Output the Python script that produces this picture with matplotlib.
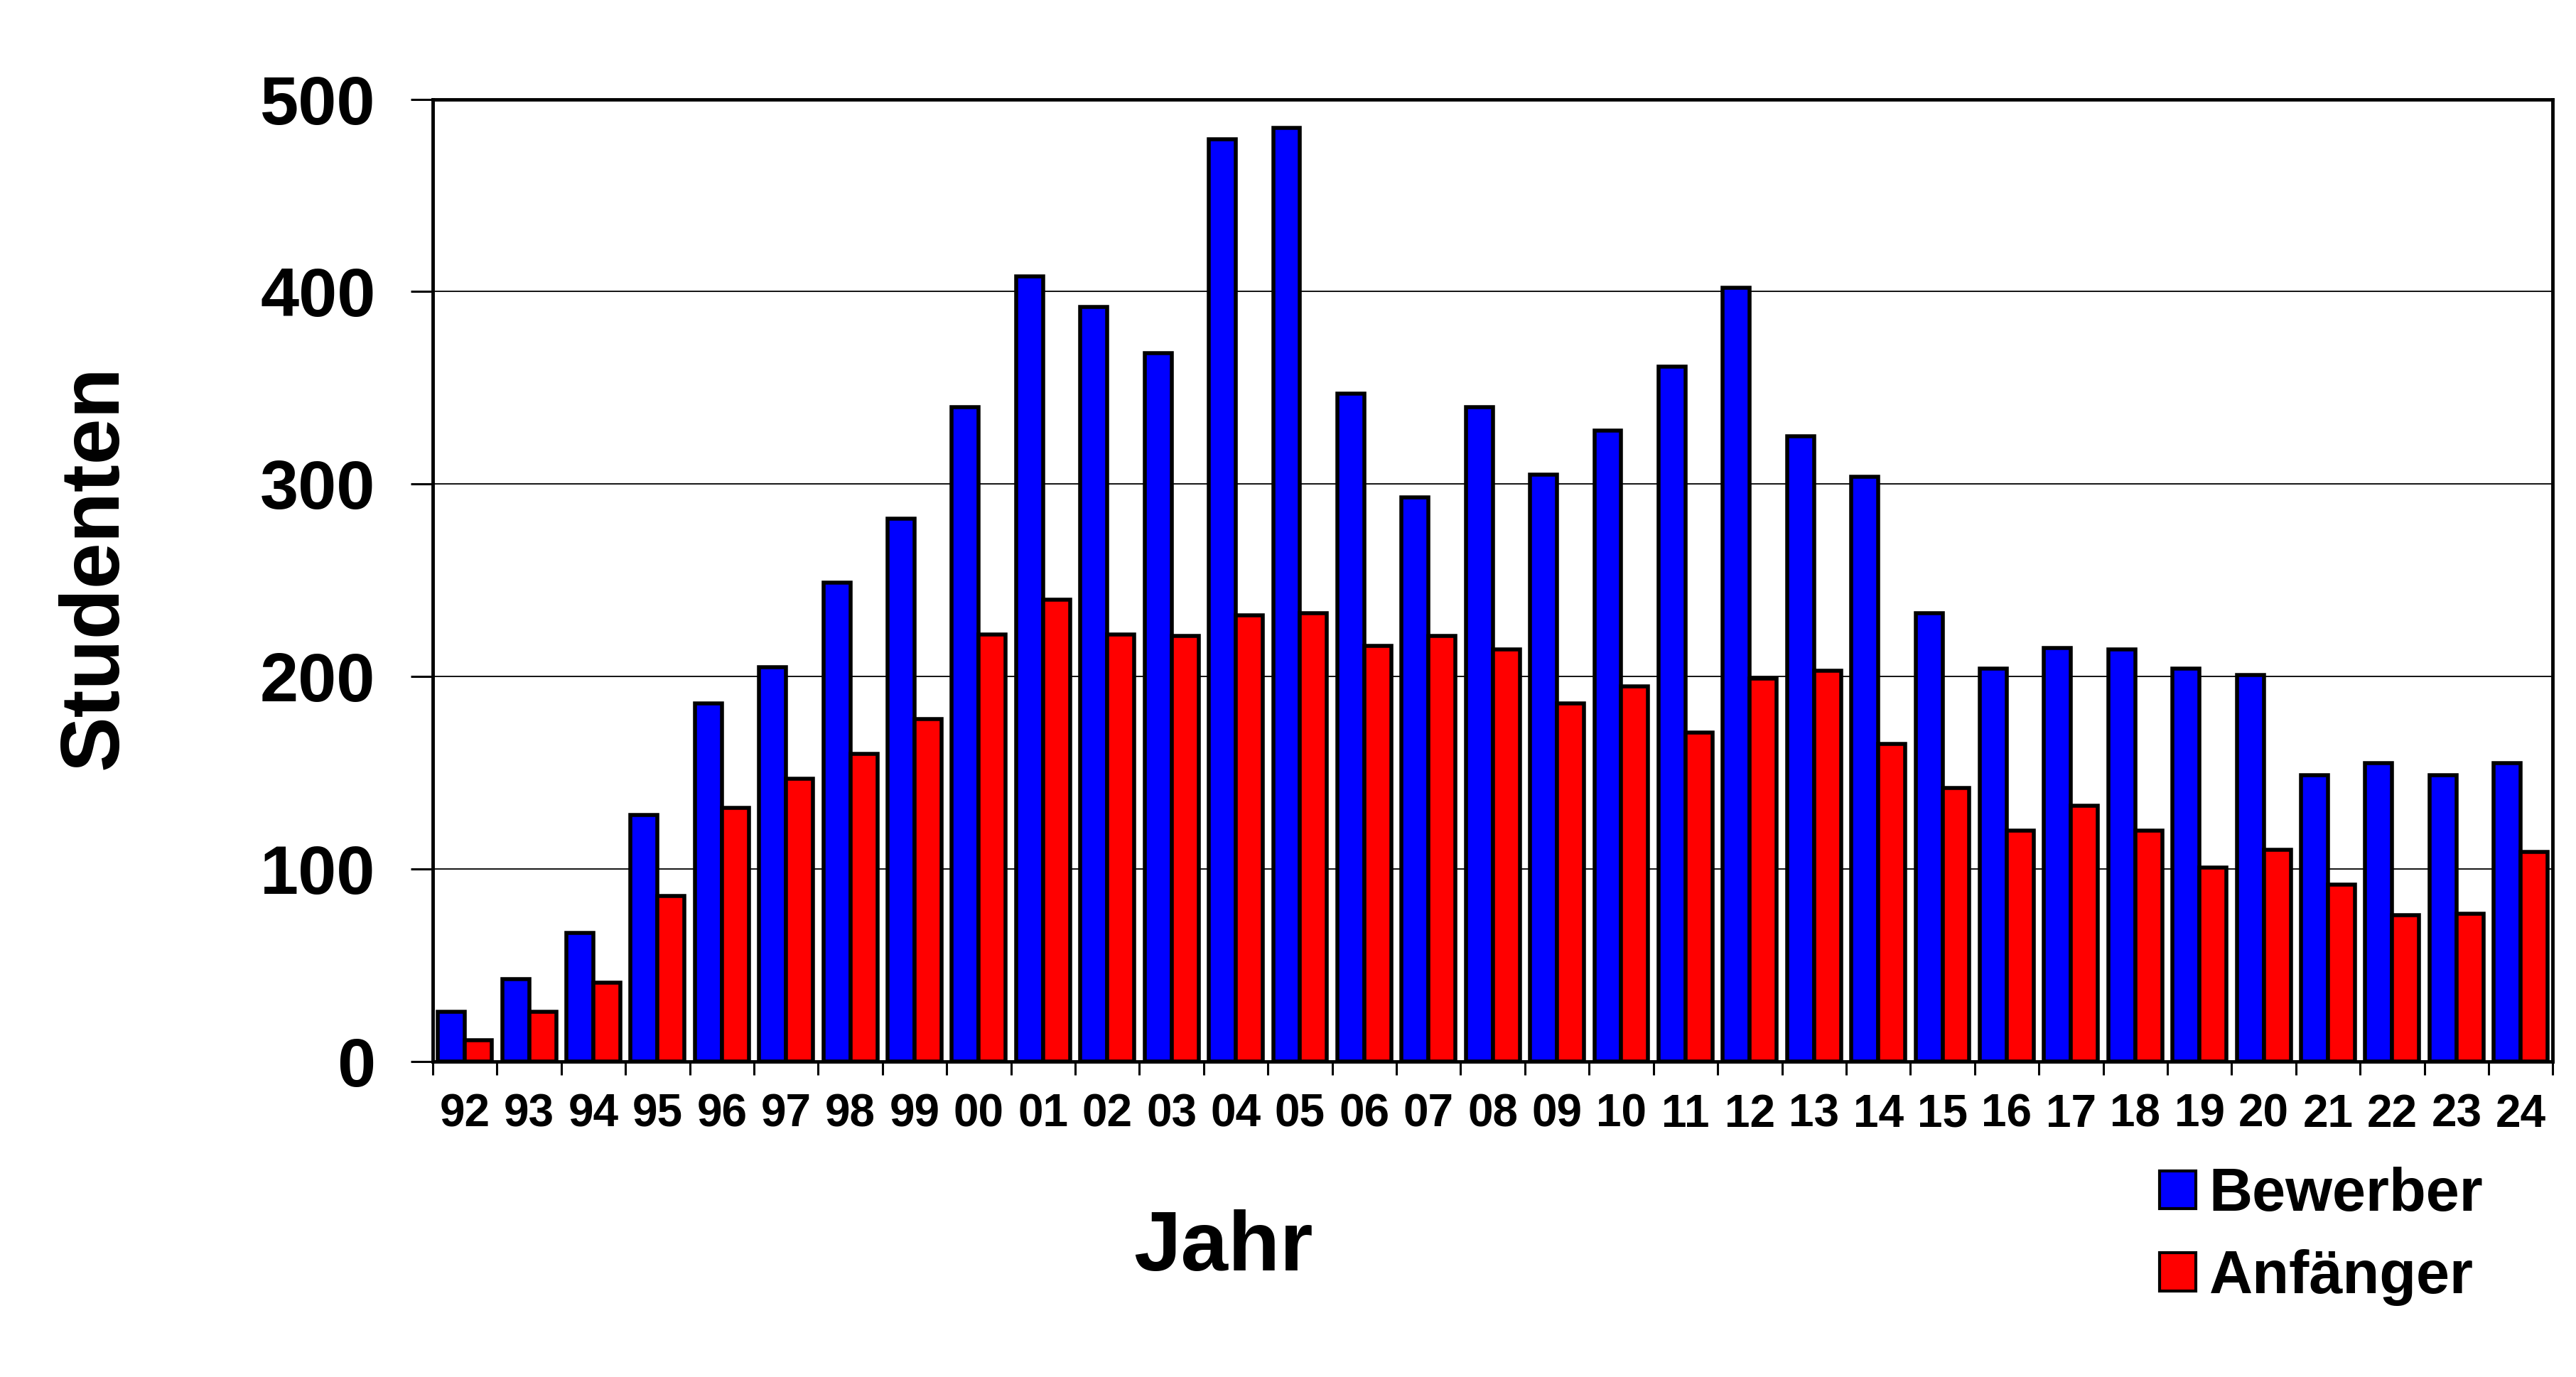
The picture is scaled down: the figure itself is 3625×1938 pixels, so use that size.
import matplotlib.pyplot as plt
import numpy as np
from matplotlib.patches import Patch

# Jahre (Kurzform) und Werte
jahre = ['92', '93', '94', '95', '96', '97', '98', '99', '00', '01', '02',
         '03', '04', '05', '06', '07', '08', '09', '10', '11', '12', '13',
         '14', '15', '16', '17', '18', '19', '20', '21', '22', '23', '24']
bewerber = [26, 43, 67, 128, 186, 205, 249, 282, 340, 408, 392,
            368, 479, 485, 347, 293, 340, 305, 328, 361, 402, 325,
            304, 233, 204, 215, 214, 204, 201, 149, 155, 149, 155]
anfaenger = [11, 26, 41, 86, 132, 147, 160, 178, 222, 240, 222,
             221, 232, 233, 216, 221, 214, 186, 195, 171, 199, 203,
             165, 142, 120, 133, 120, 101, 110, 92, 76, 77, 109]

plt.rcParams['font.family'] = ['Liberation Sans', 'DejaVu Sans']
plt.rcParams['font.weight'] = 'bold'

fig = plt.figure(figsize=(36.25, 19.38), dpi=100)
ax = fig.add_axes([0.168, 0.229, 0.823, 0.699])

x = np.arange(len(jahre))
w = 0.42
ax.bar(x - w / 2, bewerber, w, color='#0000ff', edgecolor='black', linewidth=4, zorder=3)
ax.bar(x + w / 2, anfaenger, w, color='#ff0000', edgecolor='black', linewidth=4, zorder=3)

ax.set_xlim(-0.5, len(jahre) - 0.5)
ax.set_ylim(0, 500)
ax.set_yticks([0, 100, 200, 300, 400, 500])
ax.yaxis.grid(True, color='black', linewidth=1.3, zorder=0)

# Beschriftung mittig, Striche an den Gruppengrenzen
ax.set_xticks(x)
ax.set_xticklabels(jahre)
ax.set_xticks(np.arange(-0.5, len(jahre)), minor=True)
ax.tick_params(axis='x', which='major', length=0, pad=32, labelsize=46)
ax.tick_params(axis='x', which='minor', length=14, width=2.2, direction='out')
ax.tick_params(axis='y', length=22, width=2.2, direction='out', pad=36, labelsize=70)
for lab in ax.get_xticklabels() + ax.get_yticklabels():
    lab.set_fontweight('bold')

for s in ax.spines.values():
    s.set_linewidth(3.5)

fig.text(0.475, 0.093, 'Jahr', fontsize=86, fontweight='bold', ha='center', va='center')
fig.text(0.037, 0.588, 'Studenten', fontsize=84, fontweight='bold', ha='center', va='center',
         rotation=90)

handles = [Patch(facecolor='#0000ff', edgecolor='black', linewidth=3, label='Bewerber'),
           Patch(facecolor='#ff0000', edgecolor='black', linewidth=3, label='Anfänger')]
fig.legend(handles=handles, loc='upper left', bbox_to_anchor=(0.829, 0.17), frameon=False,
           prop={'weight': 'bold', 'size': 61}, handlelength=0.6, handleheight=0.6,
           handletextpad=0.22, labelspacing=0.42, borderaxespad=0)

fig.savefig('out.png', dpi=100)
